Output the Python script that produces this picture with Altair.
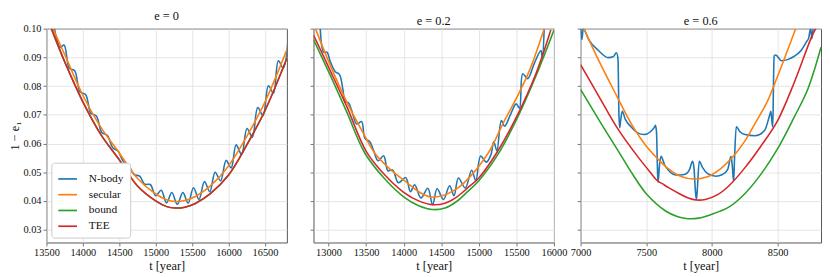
import altair as alt
import pandas as pd

SERIES = ["N-body", "secular", "bound", "TEE"]
COLORS = ["#1f77b4", "#ff7f0e", "#2ca02c", "#d62728"]
Y_TICKS = [0.03, 0.04, 0.05, 0.06, 0.07, 0.08, 0.09, 0.10]
Y_DOMAIN = [0.0255, 0.100]
TITLES = ["e = 0", "e = 0.2", "e = 0.6"]

# ---------------- panel 1 : e = 0 ----------------
p1_x_domain = [13500, 16800]
p1_x_ticks = [13500, 14000, 14500, 15000, 15500, 16000, 16500]
p1_nbody_t = [13610, 13690, 13742, 13815, 13888, 13960, 14039, 14110, 14185, 14260,
              14336, 14410, 14482, 14555, 14628, 14700, 14779, 14850, 14925, 15000,
              15075, 15148, 15221, 15296, 15372, 15445, 15518, 15593, 15669, 15742,
              15815, 15890, 15966, 16035, 16103, 16178, 16253, 16326, 16400, 16473,
              16546, 16615, 16683, 16750, 16820]
p1_nbody_v = [0.1000, 0.0935, 0.0943, 0.0862, 0.0853, 0.0780, 0.0770, 0.0705, 0.0696, 0.0638,
              0.0628, 0.0585, 0.0574, 0.0537, 0.0524, 0.0492, 0.0486, 0.0458, 0.0457, 0.0418,
              0.0437, 0.0393, 0.0429, 0.0388, 0.0429, 0.0392, 0.0446, 0.0405, 0.0467, 0.0432,
              0.0500, 0.0470, 0.0541, 0.0515, 0.0595, 0.0562, 0.0652, 0.0622, 0.0725, 0.0697,
              0.0801, 0.0775, 0.0888, 0.0862, 0.0975]
p1_secular_t = [13590, 13750, 14000, 14250, 14500, 14750, 15000, 15150, 15270, 15400,
                15550, 15750, 16000, 16250, 16500, 16800]
p1_secular_v = [0.1000, 0.0910, 0.0768, 0.0655, 0.0567, 0.0478, 0.0424, 0.0404, 0.0398, 0.0401,
                0.0416, 0.0452, 0.0522, 0.0625, 0.0745, 0.0927]
p1_tee_t = [13568, 13750, 14000, 14250, 14500, 14750, 15000, 15150, 15270, 15400,
            15550, 15750, 16000, 16250, 16500, 16800]
p1_tee_v = [0.1000, 0.0885, 0.0745, 0.0630, 0.0543, 0.0452, 0.0400, 0.0380, 0.0375, 0.0378,
            0.0392, 0.0425, 0.0490, 0.0595, 0.0715, 0.0897]
# bound coincides with TEE in this panel (hidden under the red line)
p1_bound_t = p1_tee_t
p1_bound_v = p1_tee_v

# ---------------- panel 2 : e = 0.2 ----------------
p2_x_domain = [12800, 16000]
p2_x_ticks = [13000, 13500, 14000, 14500, 15000, 15500, 16000]
p2_nbody_t = [12890, 12936, 12979, 13024, 13090, 13146, 13190, 13221, 13264, 13308,
              13374, 13440, 13484, 13550, 13600, 13660, 13734, 13790, 13853, 13930,
              14028, 14090, 14146, 14230, 14321, 14385, 14445, 14530, 14611, 14670,
              14729, 14820, 14905, 14960, 15024, 15100, 15160, 15199, 15240, 15300,
              15344, 15420, 15497, 15541, 15585, 15650, 15740, 15826, 15845, 15870]
p2_nbody_v = [0.1000, 0.0918, 0.0918, 0.0885, 0.0850, 0.0840, 0.0790, 0.0745, 0.0742, 0.0715,
              0.0668, 0.0676, 0.0618, 0.0606, 0.0575, 0.0540, 0.0557, 0.0505, 0.0508, 0.0463,
              0.0481, 0.0432, 0.0456, 0.0410, 0.0444, 0.0387, 0.0442, 0.0405, 0.0453, 0.0418,
              0.0480, 0.0445, 0.0507, 0.0470, 0.0556, 0.0535, 0.0560, 0.0606, 0.0575, 0.0680,
              0.0660, 0.0700, 0.0738, 0.0723, 0.0843, 0.0826, 0.0880, 0.0924, 0.0900, 0.1000]
p2_secular_t = [12826, 13001, 13242, 13462, 13616, 13800, 14050, 14200, 14357, 14500,
                14650, 14800, 15124, 15321, 15497, 15672, 15870]
p2_secular_v = [0.1000, 0.0886, 0.0745, 0.0636, 0.0566, 0.0515, 0.0462, 0.0432, 0.0414, 0.0417,
                0.0433, 0.0462, 0.0566, 0.0669, 0.0756, 0.0853, 0.1000]
p2_tee_t = [12800, 13024, 13242, 13505, 13750, 14000, 14200, 14379, 14550, 14700,
            14850, 15000, 15234, 15497, 15760, 15958]
p2_tee_v = [0.0978, 0.0853, 0.0729, 0.0571, 0.0490, 0.0430, 0.0400, 0.0387, 0.0392, 0.0412,
            0.0445, 0.0480, 0.0566, 0.0690, 0.0843, 0.0995]
p2_bound_t = [12800, 13024, 13242, 13484, 13750, 14000, 14200, 14379, 14550, 14700,
              14850, 15000, 15250, 15500, 15760, 16000]
p2_bound_v = [0.0962, 0.0837, 0.0710, 0.0566, 0.0476, 0.0414, 0.0383, 0.0370, 0.0375, 0.0397,
              0.0432, 0.0470, 0.0560, 0.0682, 0.0835, 0.0995]

# ---------------- panel 3 : e = 0.6 ----------------
p3_x_domain = [7000, 8830]
p3_x_ticks = [7000, 7500, 8000, 8500]
p3_nbody_t = [7002, 7010, 7020, 7062, 7136, 7211, 7248, 7273, 7285, 7292,
              7298, 7305, 7317, 7340, 7384, 7430, 7484, 7530, 7560, 7570,
              7578, 7586, 7590, 7600, 7612, 7640, 7670, 7731, 7790, 7830,
              7852, 7862, 7875, 7882, 7890, 7903, 7930, 7967, 8029, 8080,
              8120, 8145, 8155, 8165, 8172, 8185, 8215, 8252, 8327, 8400,
              8440, 8448, 8458, 8463, 8468, 8473, 8485, 8530, 8580, 8624,
              8680, 8720, 8736, 8745, 8752, 8760, 8770]
p3_nbody_v = [0.1000, 0.0962, 0.1000, 0.0962, 0.0924, 0.0899, 0.0902, 0.0916, 0.0895, 0.0700,
              0.0655, 0.0680, 0.0712, 0.0685, 0.0658, 0.0638, 0.0631, 0.0640, 0.0655, 0.0663,
              0.0640, 0.0500, 0.0465, 0.0520, 0.0555, 0.0525, 0.0506, 0.0490, 0.0492, 0.0510,
              0.0538, 0.0520, 0.0430, 0.0405, 0.0450, 0.0538, 0.0515, 0.0495, 0.0486, 0.0492,
              0.0510, 0.0555, 0.0520, 0.0468, 0.0550, 0.0658, 0.0640, 0.0631, 0.0627, 0.0645,
              0.0700, 0.0712, 0.0670, 0.0658, 0.0800, 0.0905, 0.0908, 0.0888, 0.0893, 0.0903,
              0.0925, 0.0955, 0.0967, 0.0990, 0.1000, 0.0965, 0.1000]
p3_secular_t = [7025, 7136, 7250, 7400, 7496, 7580, 7657, 7760, 7860, 7960,
                8060, 8153, 8250, 8327, 8420, 8500, 8637]
p3_secular_v = [0.1000, 0.0891, 0.0788, 0.0658, 0.0593, 0.0550, 0.0516, 0.0486, 0.0476, 0.0483,
                0.0510, 0.0550, 0.0608, 0.0669, 0.0745, 0.0835, 0.1000]
p3_tee_t = [7000, 7136, 7285, 7434, 7530, 7583, 7625, 7670, 7756, 7820,
            7880, 7950, 8040, 8128, 8250, 8376, 8500, 8624, 8760, 8790]
p3_tee_v = [0.0875, 0.0767, 0.0650, 0.0555, 0.0500, 0.0471, 0.0459, 0.0446, 0.0424, 0.0410,
            0.0403, 0.0405, 0.0421, 0.0452, 0.0515, 0.0593, 0.0680, 0.0810, 0.0973, 0.1000]
p3_bound_t = [7000, 7136, 7285, 7400, 7500, 7650, 7740, 7818, 7900, 7990,
              8128, 8250, 8376, 8500, 8624, 8730, 8830]
p3_bound_v = [0.0788, 0.0685, 0.0575, 0.0490, 0.0425, 0.0364, 0.0345, 0.0338, 0.0340, 0.0352,
              0.0378, 0.0425, 0.0495, 0.0582, 0.0690, 0.0790, 0.0935]

PANELS = [
    (TITLES[0], p1_x_domain, p1_x_ticks, {
        "N-body": (p1_nbody_t, p1_nbody_v), "secular": (p1_secular_t, p1_secular_v),
        "bound": (p1_bound_t, p1_bound_v), "TEE": (p1_tee_t, p1_tee_v)}),
    (TITLES[1], p2_x_domain, p2_x_ticks, {
        "N-body": (p2_nbody_t, p2_nbody_v), "secular": (p2_secular_t, p2_secular_v),
        "bound": (p2_bound_t, p2_bound_v), "TEE": (p2_tee_t, p2_tee_v)}),
    (TITLES[2], p3_x_domain, p3_x_ticks, {
        "N-body": (p3_nbody_t, p3_nbody_v), "secular": (p3_secular_t, p3_secular_v),
        "bound": (p3_bound_t, p3_bound_v), "TEE": (p3_tee_t, p3_tee_v)}),
]

W, H = 244, 217
FONT = "Liberation Serif, DejaVu Serif, serif"


def make_panel(idx, title, xdomain, xticks, data):
    first = idx == 0
    layers = []
    for name in SERIES:
        t, v = data[name]
        df = pd.DataFrame({"t": t, "v": v, "series": [name] * len(t)})
        if first:
            color = alt.Color(
                "series:N",
                scale=alt.Scale(domain=SERIES, range=COLORS),
                sort=SERIES,
                legend=alt.Legend(
                    title=None, orient="bottom-left", offset=5,
                    fillColor="white", strokeColor="#cccccc", cornerRadius=3,
                    padding=6, symbolType="stroke", symbolSize=361,
                    symbolStrokeWidth=1.7, labelOffset=11, rowPadding=-3,
                    labelFont=FONT, labelFontSize=11.5, labelColor="#111111",
                ),
            )
        else:
            color = alt.Color("series:N", scale=alt.Scale(domain=SERIES, range=COLORS),
                              legend=None)
        if first:
            yaxis = alt.Axis(values=Y_TICKS, format=".2f", title="1 − e₁")
        else:
            yaxis = alt.Axis(values=Y_TICKS, labels=False, title=None)
        if name == "N-body" and idx == 2:
            interp = "monotone"
        else:
            interp = "catmull-rom"
        layer = alt.Chart(df).mark_line(
            clip=True, strokeWidth=1.6, interpolate=interp
        ).encode(
            x=alt.X("t:Q", scale=alt.Scale(domain=xdomain, nice=False, zero=False),
                    axis=alt.Axis(values=xticks, format="d", title="t [year]")),
            y=alt.Y("v:Q", scale=alt.Scale(domain=Y_DOMAIN, nice=False, zero=False),
                    axis=yaxis),
            color=color,
        )
        layers.append(layer)
    return alt.layer(*layers).properties(
        width=W, height=H, title=alt.TitleParams(text=title)
    )


panels = [make_panel(i, *p) for i, p in enumerate(PANELS)]

chart = alt.hconcat(*panels, spacing=27, bounds="flush").resolve_scale(
    x="independent", y="independent", color="independent"
).resolve_legend(color="independent").properties(
    padding={"left": 0, "top": 0, "right": 0, "bottom": 0}
).configure_view(
    stroke="#555555", strokeWidth=1
).configure_axis(
    domain=False, grid=True, gridColor="#dedede", gridWidth=0.8,
    tickColor="#555555", tickSize=3.5, tickWidth=0.8,
    labelFont=FONT, labelFontSize=10.5, labelColor="#111111", labelPadding=2,
    labelFlush=False, labelOverlap=False,
    titleFont=FONT, titleFontSize=12.5, titleFontWeight="normal", titleColor="#111111",
    titlePadding=1,
).configure_title(
    font=FONT, fontSize=12.5, fontWeight="normal", offset=1, color="#111111",
    anchor="middle"
)

chart.save("out.html", embed_options={"renderer": "svg", "actions": False})
